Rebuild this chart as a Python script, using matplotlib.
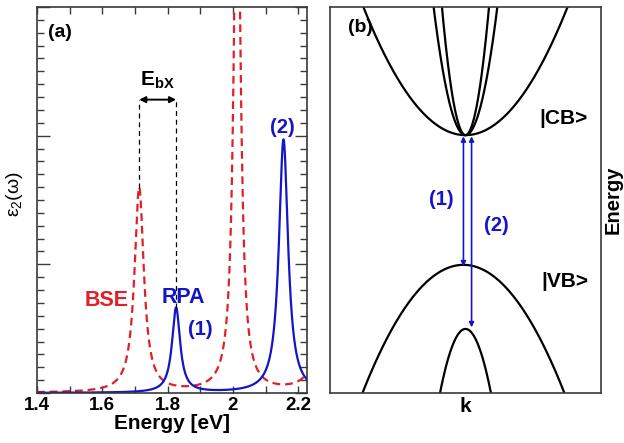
import numpy as np
import matplotlib.pyplot as plt
from matplotlib.ticker import MultipleLocator, NullFormatter

plt.rcParams["font.family"] = ["Liberation Sans", "DejaVu Sans"]
plt.rcParams["font.weight"] = "bold"
plt.rcParams["axes.labelweight"] = "bold"
plt.rcParams["mathtext.fontset"] = "custom"
plt.rcParams["mathtext.rm"] = "Liberation Sans:normal"
plt.rcParams["mathtext.bf"] = "Liberation Sans:bold"
plt.rcParams["mathtext.it"] = "Liberation Sans:italic:normal"

# panel (a): absorption peaks (eV, arb. units, eV half width)
bse_center = [1.713, 2.013, 2.29]
bse_height = [1.59, 4.6, 3.0]
bse_width = [0.0173, 0.012, 0.014]

rpa_center = [1.826, 2.155]
rpa_height = [0.66, 1.97]
rpa_width = [0.015, 0.017]

energy_ticks = [1.4, 1.6, 1.8, 2.0, 2.2]
energy_tick_labels = ["1.4", "1.6", "1.8", "2", "2.2"]

# panel (b): schematic bands, E = E0 +/- c * (k - k0)^2
cb_min = 0.668
cb_curv = [0.585, 6.0, 11.0]
vb_top = [0.332, 0.166]
vb_curv = [0.598, 4.7]
vb_k0 = [-0.015, 0.0]
transition_k = [-0.015, 0.045]
transition_end = [0.328, 0.17]

RED = "#e02026"
BLUE = "#1414c8"
SPINE = "#3a3a3a"


def spectrum(e, centers, heights, widths):
    s = np.zeros_like(e)
    for c, h, g in zip(centers, heights, widths):
        s += h * g**2 / ((e - c) ** 2 + g**2)
    return s


fig = plt.figure(figsize=(6.24, 4.43), dpi=100)
ax1 = fig.add_axes([0.0593, 0.1129, 0.4327, 0.8713])
ax2 = fig.add_axes([0.5288, 0.1129, 0.4343, 0.8713])

# ---------- (a) ----------
e = np.linspace(1.4, 2.23, 3000)
ax1.plot(e, spectrum(e, bse_center, bse_height, bse_width), color=RED,
         lw=1.6, dashes=(3.5, 2.2))
ax1.plot(e, spectrum(e, rpa_center, rpa_height, rpa_width), color=BLUE, lw=1.6)

ebx_y = 2.28
ax1.plot([bse_center[0], bse_center[0]], [bse_height[0], ebx_y], color="k",
         lw=0.9, dashes=(4, 3))
ax1.plot([rpa_center[0], rpa_center[0]], [rpa_height[0], ebx_y], color="k",
         lw=0.9, dashes=(4, 3))
ax1.annotate("", xy=(bse_center[0], ebx_y), xytext=(rpa_center[0], ebx_y),
             arrowprops=dict(arrowstyle="<|-|>", color="k", lw=1.4,
                             mutation_scale=9, shrinkA=0, shrinkB=0))
ax1.text(1.768, 2.43, r"$\mathbf{E}_{\mathbf{bX}}$", fontsize=15,
         ha="center", va="center")

ax1.text(1.612, 0.72, "BSE", color=RED, fontsize=15.5, ha="center", va="center")
ax1.text(1.848, 0.74, "RPA", color=BLUE, fontsize=15.5, ha="center", va="center")
ax1.text(1.9, 0.49, "(1)", color=BLUE, fontsize=14.5, ha="center", va="center")
ax1.text(2.153, 2.06, "(2)", color=BLUE, fontsize=14.5, ha="center", va="center")
ax1.text(0.04, 0.935, "(a)", transform=ax1.transAxes, fontsize=14,
         ha="left", va="center")

ax1.set_xlim(1.4, 2.227)
ax1.set_ylim(0, 3)
ax1.set_xticks(energy_ticks)
ax1.set_xticklabels(energy_tick_labels)
ax1.xaxis.set_minor_locator(MultipleLocator(0.1))
ax1.yaxis.set_major_locator(MultipleLocator(1))
ax1.yaxis.set_minor_locator(MultipleLocator(0.1))
ax1.yaxis.set_major_formatter(NullFormatter())
ax1.tick_params(axis="both", which="both", direction="in", top=True,
                right=True, color=SPINE)
ax1.tick_params(axis="x", which="both", length=5, width=1, labelsize=13.5,
                pad=3)
ax1.tick_params(axis="y", which="major", length=9, width=1)
ax1.tick_params(axis="y", which="minor", length=5, width=1)
ax1.set_xlabel("Energy [eV]", fontsize=15, labelpad=0)
ax1.set_ylabel(r"$\mathrm{\varepsilon_2(\omega)}$", fontsize=14)
ax1.yaxis.set_label_coords(-0.045, 0.515)

# ---------- (b) ----------
k = np.linspace(-1, 1, 1000)
for c in cb_curv:
    ax2.plot(k, cb_min + c * k**2, color="k", lw=1.6)
for top, c, k0 in zip(vb_top, vb_curv, vb_k0):
    ax2.plot(k, top - c * (k - k0) ** 2, color="k", lw=1.6)

for kt, end in zip(transition_k, transition_end):
    ax2.annotate("", xy=(kt, cb_min - 0.003), xytext=(kt, end),
                 arrowprops=dict(arrowstyle="<|-|>", color=BLUE, lw=1.2,
                                 mutation_scale=7, shrinkA=0, shrinkB=0))

ax2.text(-0.176, 0.5, "(1)", color=BLUE, fontsize=14.5, ha="center",
         va="center")
ax2.text(0.23, 0.435, "(2)", color=BLUE, fontsize=14.5, ha="center",
         va="center")
ax2.text(0.72, 0.71, "|CB>", fontsize=15, ha="center", va="center")
ax2.text(0.73, 0.29, "|VB>", fontsize=15, ha="center", va="center")
ax2.text(0.066, 0.948, "(b)", transform=ax2.transAxes, fontsize=14,
         ha="left", va="center")

ax2.set_xlim(-1, 1)
ax2.set_ylim(0, 1)
ax2.set_xticks([])
ax2.set_yticks([])
ax2.set_xlabel("k", fontsize=15, labelpad=3)
ax2.yaxis.set_label_position("right")
ax2.set_ylabel("Energy", fontsize=14.5, labelpad=2)

for ax in (ax1, ax2):
    for sp in ax.spines.values():
        sp.set_color(SPINE)
        sp.set_linewidth(1.2)

fig.savefig("out.png", dpi=100)
